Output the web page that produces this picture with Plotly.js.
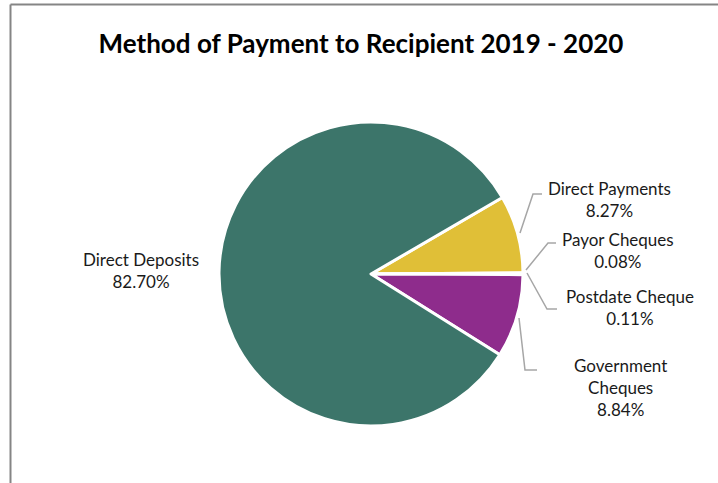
<!DOCTYPE html>
<html>
<head>
<meta charset="utf-8">
<script src="https://cdn.plot.ly/plotly-3.0.1.min.js"></script>
<style>html,body{margin:0;padding:0;background:#fff;}#chart{width:718px;height:483px;}</style>
</head>
<body>
<div id="chart"></div>
<script>
// ---- data ----
const categories = ["Direct Payments", "Payor Cheques", "Postdate Cheque", "Government Cheques", "Direct Deposits"];
const displayNames = ["Direct Payments", "Payor Cheques", "Postdate Cheque", "Government<br>Cheques", "Direct Deposits"];
const shares = [8.27, 0.08, 0.11, 8.84, 82.70];
const sliceColors = ["#E0BF37", "#6E8B3D", "#4F81BD", "#8E2C8C", "#3C756A"];
const chartTitle = "Method of Payment to Recipient 2019 - 2020";

// ---- layout helpers (pixel -> paper) ----
const W = 718, H = 483;
const px = x => x / W;
const py = y => 1 - y / H;

// label centres and leader lines (px)
const labelPos = [
  {x: 609, y: 200},
  {x: 618, y: 250},
  {x: 630, y: 307},
  {x: 620, y: 387},
  {x: 141, y: 270}
];
const leaders = [
  [[520,233],[533,194],[542,194]],
  [[526,270],[548,243],[556,243]],
  [[527,273],[547,309],[557,309]],
  [[519,318],[525,370],[537,370]],
  null
];

const font = "Lato, 'Open Sans', sans-serif";

const annotations = categories.map((c, i) => ({
  xref: 'paper', yref: 'paper',
  x: px(labelPos[i].x), y: py(labelPos[i].y),
  xanchor: 'center', yanchor: 'middle',
  text: displayNames[i] + '<br>' + shares[i].toFixed(2) + '%',
  showarrow: false, align: 'center',
  font: {family: font, size: 17, color: '#1a1a1a'}
}));

const shapes = [];
leaders.forEach(l => {
  if (!l) return;
  shapes.push({
    type: 'path', xref: 'paper', yref: 'paper',
    path: 'M' + l.map(p => px(p[0]) + ',' + py(p[1])).join(' L'),
    line: {color: '#A6A6A6', width: 1.5}
  });
});
// chart area border (top and left visible)
shapes.push({type:'line', xref:'paper', yref:'paper', x0: px(10.5), y0: py(4.5), x1: 1, y1: py(4.5), line:{color:'#858585', width:2}});
shapes.push({type:'line', xref:'paper', yref:'paper', x0: px(10.5), y0: py(4.5), x1: px(10.5), y1: 0, line:{color:'#858585', width:2}});

const trace = {
  type: 'pie',
  labels: categories,
  values: shares,
  sort: false,
  direction: 'clockwise',
  rotation: 59.8,
  marker: {colors: sliceColors, line: {color: '#ffffff', width: 3}},
  textinfo: 'none',
  hoverinfo: 'none',
  showlegend: false,
  domain: {x: [px(219), px(523)], y: [py(426), py(122)]}
};

const layout = {
  width: W, height: H,
  margin: {l: 0, r: 0, t: 0, b: 0},
  paper_bgcolor: '#ffffff',
  title: {
    text: '<b>' + chartTitle + '</b>',
    x: px(361), y: py(44), xanchor: 'center', yanchor: 'middle',
    xref: 'paper', yref: 'paper',
    font: {family: font, size: 26, color: '#000000'}
  },
  annotations: annotations,
  shapes: shapes,
  showlegend: false
};

Plotly.newPlot('chart', [trace], layout, {displayModeBar: false, staticPlot: true});
</script>
</body>
</html>
